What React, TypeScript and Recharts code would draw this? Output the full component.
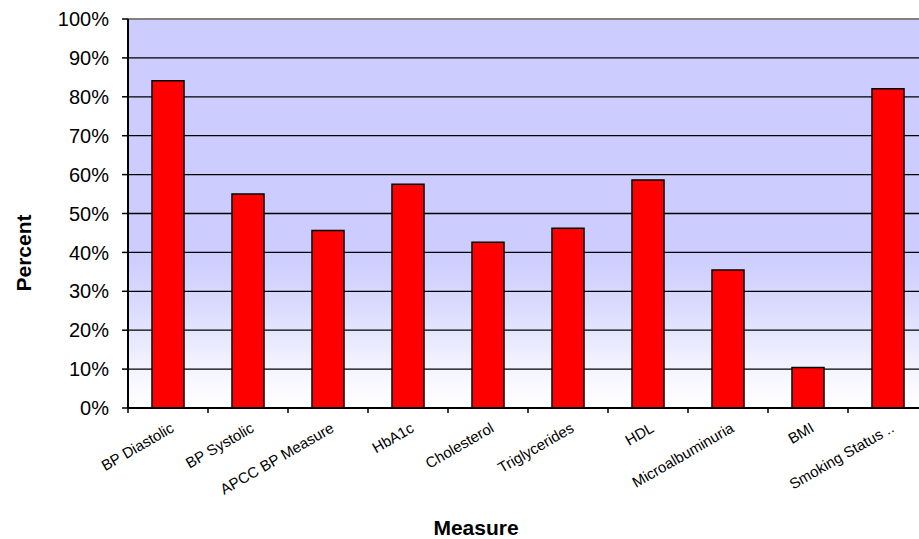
import { BarChart, Bar, XAxis, YAxis, CartesianGrid, ReferenceLine } from 'recharts'

const MEASURES = [
  'BP Diastolic',
  'BP Systolic',
  'APCC BP Measure',
  'HbA1c',
  'Cholesterol',
  'Triglycerides',
  'HDL',
  'Microalbuminuria',
  'BMI',
  'Smoking Status ..',
]

const PERCENT = [84.1, 55.0, 45.6, 57.5, 42.6, 46.2, 58.6, 35.5, 10.4, 82.1]

const Y_TICKS = [0, 10, 20, 30, 40, 50, 60, 70, 80, 90, 100]

const data = MEASURES.map((measure, i) => ({ measure, percent: PERCENT[i] }))

const CHART_W = 940
const CHART_H = 539
const MARGIN = { top: 19, right: 12, bottom: 31, left: 28 }
const Y_AXIS_W = 100
const X_AXIS_H = 100
const PLOT_W = CHART_W - MARGIN.left - MARGIN.right - Y_AXIS_W
const BAND = PLOT_W / MEASURES.length

const FONT = '"Liberation Sans", Arial, sans-serif'

// category label rotated like the spreadsheet export, with the tick mark on the band's left edge
function MeasureTick(props: any) {
  const { x, y, payload } = props
  const edge = x - BAND / 2
  const tx = x + 7
  const ty = y + 23
  return (
    <g>
      <line x1={edge} y1={y} x2={edge} y2={y + 5} stroke="#000" strokeWidth={1.5} />
      <text
        x={tx}
        y={ty}
        textAnchor="end"
        transform={`rotate(-30, ${tx}, ${ty})`}
        fontSize={15}
        fontFamily={FONT}
        fill="#000"
      >
        {payload.value}
      </text>
    </g>
  )
}

export default function App() {
  return (
    <div
      style={{
        position: 'fixed',
        left: 0,
        top: 0,
        width: 919,
        height: 539,
        overflow: 'hidden',
        background: '#fff',
      }}
    >
      <BarChart width={CHART_W} height={CHART_H} data={data} margin={MARGIN}>
        <defs>
          <linearGradient id="plotBg" x1="0" y1="0" x2="0" y2="1">
            <stop offset="0" stopColor="#CCCCFF" />
            <stop offset="0.6" stopColor="#CCCCFF" />
            <stop offset="0.75" stopColor="#DCDCFF" />
            <stop offset="0.9" stopColor="#F4F4FF" />
            <stop offset="1" stopColor="#FFFFFF" />
          </linearGradient>
        </defs>
        <CartesianGrid
          vertical={false}
          stroke="#000"
          strokeWidth={1.3}
          strokeDasharray=""
          fill="url(#plotBg)"
          fillOpacity={1}
        />
        <XAxis
          dataKey="measure"
          height={X_AXIS_H}
          interval={0}
          tickLine={false}
          tickSize={0}
          tickMargin={0}
          axisLine={{ stroke: '#000', strokeWidth: 2 }}
          tick={<MeasureTick />}
        />
        <YAxis
          width={Y_AXIS_W}
          domain={[0, 100]}
          ticks={Y_TICKS}
          interval={0}
          tickFormatter={(v: number) => `${v}%`}
          tickSize={6}
          tickMargin={13}
          axisLine={{ stroke: '#000', strokeWidth: 2 }}
          tickLine={{ stroke: '#000', strokeWidth: 1.5 }}
          tick={{ fontSize: 20, fontFamily: FONT, fill: '#000' }}
        />
        <ReferenceLine y={100} stroke="#808080" strokeWidth={2} />
        <Bar
          dataKey="percent"
          fill="#FF0000"
          stroke="#000"
          strokeWidth={1.5}
          barSize={32}
          isAnimationActive={false}
        />
      </BarChart>
      <svg
        width={919}
        height={539}
        style={{ position: 'absolute', left: 0, top: 0, pointerEvents: 'none' }}
      >
        <text
          x={31}
          y={253}
          transform="rotate(-90, 31, 253)"
          textAnchor="middle"
          fontSize={21}
          fontWeight="bold"
          fontFamily={FONT}
          fill="#000"
        >
          Percent
        </text>
        <text
          x={476}
          y={535}
          textAnchor="middle"
          fontSize={21}
          fontWeight="bold"
          fontFamily={FONT}
          fill="#000"
        >
          Measure
        </text>
      </svg>
    </div>
  )
}
